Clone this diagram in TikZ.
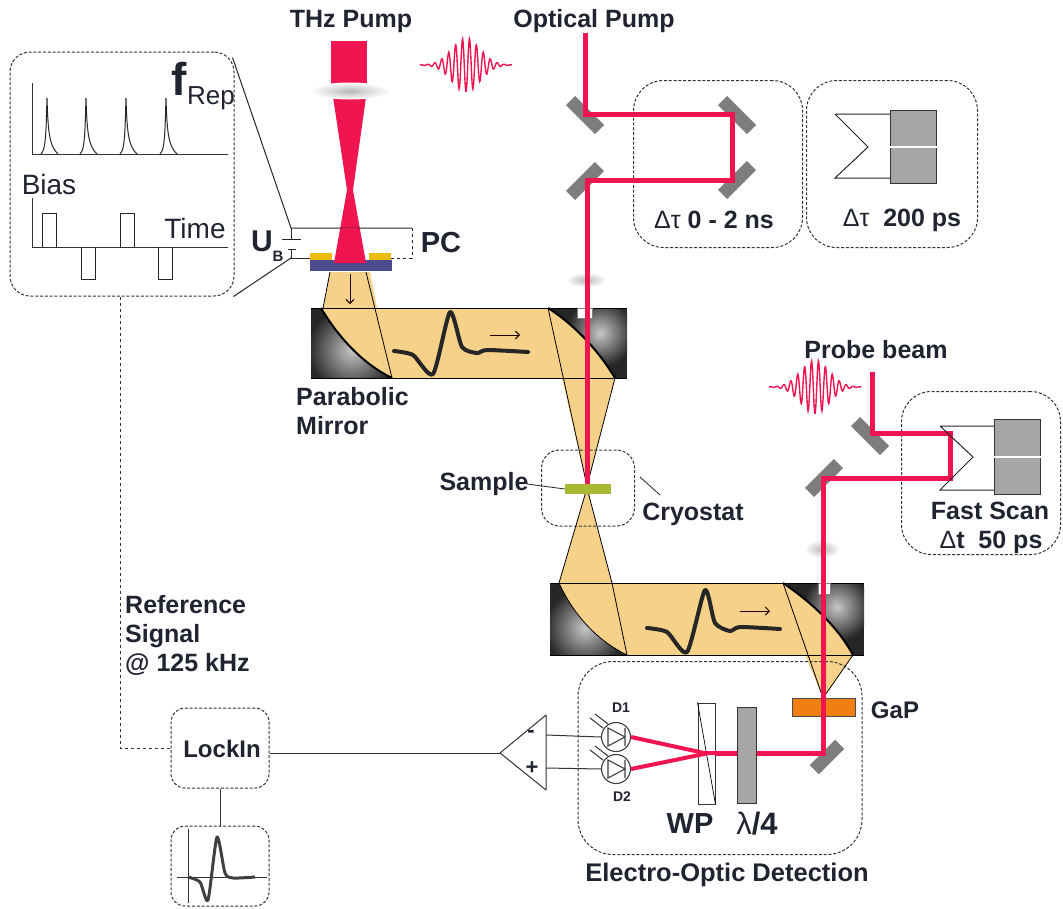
\documentclass[tikz,border=0pt]{standalone}
\usepackage{fontspec}
\setmainfont{Liberation Sans}
\usepackage{tikz}
\usetikzlibrary{shapes.geometric, arrows.meta, positioning}
\definecolor{beamred}{RGB}{240,20,80}
\definecolor{thztan}{RGB}{246,209,137}
\definecolor{mirrorgray}{RGB}{125,125,125}
\definecolor{blockgray}{RGB}{166,166,166}
\definecolor{labeldark}{RGB}{32,36,48}
\definecolor{samplegreen}{RGB}{168,184,50}
\definecolor{padyellow}{RGB}{236,188,16}
\definecolor{subblue}{RGB}{74,74,140}
\definecolor{gaporange}{RGB}{238,127,16}
\begin{document}
\begin{tikzpicture}[x=1pt, y=-1pt,
 lab/.style={font=\bfseries\fontsize{25}{29}\selectfont, text=labeldark, inner sep=0pt},
 plain/.style={font=\fontsize{28}{30}\selectfont, text=labeldark, inner sep=0pt},
 tiny/.style={font=\bfseries\fontsize{14}{16}\selectfont, text=labeldark, inner sep=0pt},
 dashbox/.style={draw=black!80, dash pattern=on 3pt off 1.8pt, line width=1pt, rectangle, inner sep=0pt},
 mirror/.style={fill=mirrorgray, rectangle, inner sep=0pt, minimum width=41pt, minimum height=13pt},
 lens/.style={ellipse, shade, inner color=black!28, outer color=white, inner sep=0pt},
 beam/.style={draw=beamred, line width=5pt, line join=miter},
 wire/.style={draw=black!80, line width=1pt},
 trace/.style={draw=black!85, line width=4pt, line join=round, line cap=round},
 arrowline/.style={draw=black!70!red!40!black, line width=1pt, -{Straight Barb[length=4pt]}},
 detector/.style={circle, draw=black!75, line width=1.1pt, fill=white, minimum size=29pt, inner sep=0pt},
 glow/.style={inner color=black!22, outer color=black!85}]
 \useasboundingbox (0,0) rectangle (1063,908);

 \node[dashbox, rounded corners=20pt, minimum width=224pt, minimum height=244pt] (pulsebox) at (122,174){};
 \node[dashbox, rounded corners=30pt, minimum width=169pt, minimum height=167pt] (delaybox) at (718,164){};
 \node[dashbox, rounded corners=30pt, minimum width=171pt, minimum height=167pt] (stagebox) at (892,164){};
 \node[dashbox, rounded corners=30pt, minimum width=159pt, minimum height=163pt] (fastbox) at (981,473){};
 \node[dashbox, rounded corners=14pt, minimum width=98pt, minimum height=80pt] (lockin) at (220,748){};
 \node[dashbox, rounded corners=14pt, minimum width=98pt, minimum height=80pt] (scopebox) at (220,866){};

 \fill[beamred] (331,41) rectangle (367,90);
 \fill[beamred] (332,90) -- (367,90) -- (353,190) -- (366,263) -- (334,263) -- (347,190) -- cycle;
 \node[lens, minimum width=80pt, minimum height=17pt] (pumplens) at (350,91){};

 \fill[padyellow] (310,253) rectangle (332,260);
 \fill[padyellow] (369,253) rectangle (391,260);
 \node[fill=subblue, minimum width=82pt, minimum height=11pt, inner sep=0pt] (emitter) at (351,265){};

 \begin{scope}
  \clip (311,308) rectangle (627,378);
  \fill[black!85] (311,308) rectangle (627,378);
  \shade[glow] (352,350) circle (44);
  \shade[glow] (600,333) circle (34);
 \end{scope}
 \fill[thztan] (330,272) -- (370,272) -- (377,308) -- (548,308) .. controls (570,322) and (595,345) .. (615,378) -- (587,486) -- (562,378) -- (392,378) .. controls (365,365) and (340,340) .. (321,308) -- (323,308) -- cycle;
 \draw[line width=1pt] (311,308) -- (627,308) (311,378) -- (627,378);
 \draw[line width=2pt] (321,308) .. controls (340,340) and (365,365) .. (392,378);
 \draw[line width=2pt] (548,308) .. controls (570,322) and (595,345) .. (615,378);
 \draw[line width=0.8pt] (330,272) -- (323,308) (366,272) -- (392,378) (548,308) -- (587,486) -- (615,378);
 \draw[trace] plot[smooth, tension=0.4] coordinates {(394,351) (413,355) (433,374) (450,312) (462,347) (477,353) (487,350) (528,352)};
 \draw[arrowline] (490,335) -- (520,335);
 \draw[arrowline] (350,274) -- (350,304);
 \node[draw=black!50, fill=white, minimum width=15pt, minimum height=10pt, inner sep=0pt] (notchtop) at (585,313){};
 \node[lens, minimum width=40pt, minimum height=15pt] (toplens) at (586,280){};

 \begin{scope}
  \clip (550,583) rectangle (864,655);
  \fill[black!85] (550,583) rectangle (864,655);
  \shade[glow] (585,628) circle (40);
  \shade[glow] (837,607) circle (34);
 \end{scope}
 \fill[thztan] (587,488) -- (612,583) -- (783,583) .. controls (805,598) and (835,622) .. (853,655) -- (823,698) -- (805,655) -- (627,655) .. controls (600,642) and (575,618) .. (559,583) -- cycle;
 \draw[line width=1pt] (550,583) -- (864,583) (550,655) -- (864,655);
 \draw[line width=0.8pt] (587,488) -- (559,583) .. controls (575,618) and (600,642) .. (627,655) (587,488) -- (612,583) -- (627,655);
 \draw[line width=2pt] (783,583) .. controls (805,598) and (835,622) .. (853,655);
 \draw[line width=0.8pt] (783,583) -- (823,698) -- (853,655);
 \draw[trace] plot[smooth, tension=0.4] coordinates {(647,628) (667,632) (687,652) (705,590) (715,623) (730,631) (740,627) (780,629)};
 \draw[arrowline] (740,611) -- (770,611);
 \node[draw=black!50, fill=white, minimum width=12pt, minimum height=11pt, inner sep=0pt] (notchlow) at (824,589){};
 \node[lens, minimum width=36pt, minimum height=18pt] (lowlens) at (822,549){};

 \node[dashbox, rounded corners=18pt, minimum width=93pt, minimum height=76pt] (cryobox) at (588,488){};
 \node[dashbox, rounded corners=35pt, minimum width=284pt, minimum height=193pt] (eobox) at (720,758){};

 \node[mirror, rotate=-45] (mirrorA) at (585,115){};
 \node[mirror, rotate=-45] (mirrorB) at (737,115){};
 \node[mirror, rotate=45] (mirrorC) at (737,180){};
 \node[mirror, rotate=45] (mirrorD) at (585,181){};
 \node[mirror, rotate=-45] (mirrorE) at (870,436){};
 \node[mirror, rotate=45] (mirrorF) at (824,478){};
 \node[mirror, rotate=45, minimum width=36pt] (mirrorG) at (827,757){};
 \coordinate (pumpstart) at (585,33);
 \coordinate (pumpA) at (585,114);
 \coordinate (pumpB) at (732,114);
 \coordinate (pumpC) at (732,180);
 \coordinate (pumpD) at (587,180);
 \coordinate (pumpend) at (587,484);
 \coordinate (probestart) at (872,372);
 \coordinate (probeA) at (872,433);
 \coordinate (probeB) at (950,433);
 \coordinate (probeC) at (950,478);
 \coordinate (probeD) at (823,478);
 \coordinate (probeE) at (823,753);
 \coordinate (probeF) at (700,753);

 \node[fill=samplegreen, minimum width=46pt, minimum height=10pt, inner sep=0pt] (sample) at (588,489){};
 \node[draw=black!70, fill=gaporange, line width=0.6pt, minimum width=63pt, minimum height=18pt, inner sep=0pt] (gap) at (824,707){};
 \draw[beam] (pumpstart) -- (pumpA) -- (pumpB) -- (pumpC) -- (pumpD) -- (pumpend);
 \draw[beam] (probestart) -- (probeA) -- (probeB) -- (probeC) -- (probeD) -- (probeE) -- (probeF);

 \node[draw=black!80, fill=white, line width=1pt, minimum width=17pt, minimum height=101pt, inner sep=0pt] (wp) at (706.5,753.5){};
 \draw[line width=0.7pt] (wp.north west) -- (wp.south east);
 \node[draw=black!80, fill=blockgray, line width=1pt, minimum width=19pt, minimum height=96pt, inner sep=0pt] (waveplate) at (747,755){};
 \draw[beamred, line width=4pt] (waveplate.west |- probeF) -- (probeF) -- (wp.center);
 \node[detector] (diodeA) at (616,737){};
 \node[detector] (diodeB) at (616,769){};
 \foreach \dy/\dname in {737/diodeA, 769/diodeB}{
  \draw[black!75, line width=1.1pt] (608,\dy-9) -- (608,\dy+9) -- (625,\dy) -- cycle (625,\dy-9) -- (625,\dy+9);
  \draw[black!75, line width=1.1pt] (590,\dy-19) -- (603,\dy-9) (595,\dy-23) -- (608,\dy-13);
 }
 \draw[beamred, line width=4pt] (wp.center) -- (diodeA.east);
 \draw[beamred, line width=4pt] (wp.center) -- (diodeB.east);

 \coordinate (amptip) at (500,753);
 \coordinate (amptop) at (546,715);
 \coordinate (ampbot) at (546,790);
 \coordinate (ampminus) at (546,735);
 \coordinate (ampplus) at (546,768);
 \draw[wire, line join=round] (amptip) -- (amptop) -- (ampbot) -- cycle;
 \draw[wire] (diodeA.west) -- (ampminus);
 \draw[wire] (diodeB.west) -- (ampplus);
 \draw[wire] (lockin.east |- amptip) -- (amptip);
 \draw[wire] (lockin) -- (scopebox);
 \coordinate (refcorner) at (120,748);
 \draw[draw=black!80, dashed, line width=0.8pt] (pulsebox.south -| refcorner) -- (refcorner) -- (lockin.west |- refcorner);

 \draw[wire] (188,829) -- (188,903) (177,877) -- (267,877);
 \draw[draw=black!75, line width=3pt, line join=round] plot[smooth, tension=0.4] coordinates {(188,877) (200,882) (208,900) (217,837) (225,873) (233,878) (255,877)};

 \draw[wire] (32,83) -- (32,154) -- (228,154);
 \foreach \px in {47,86,126,166}{
  \draw[black!85, line width=1pt] (\px-6,154) .. controls (\px-1,150) and (\px-1,130) .. (\px,98) .. controls (\px+1,130) and (\px+2,146) .. (\px+11,154);
 }
 \draw[wire] (32,198) -- (32,247) -- (228,247);
 \foreach \px in {42,120}{
  \draw[black!85, line width=1pt] (\px,247) |- (\px+14,213) -- (\px+14,247);
 }
 \foreach \px in {81,158}{
  \draw[black!85, line width=1pt] (\px,247) |- (\px+14,279) -- (\px+14,247);
 }
 \coordinate (pcleft) at (291,228);
 \coordinate (pcright) at (412,228);
 \draw[line width=1pt, black!85] (pulsebox.north east) ++(-2,6) -- (pcleft) -- (pcright);
 \draw[line width=1pt, black!85] (pulsebox.south east) ++(-1,0) -- (291,258);
 \draw[line width=1pt, black!85] (pcleft) -- (291,239) (282,239) -- (301,239) (288,249) -- (296,249) (291,249) -- (291,258) -- (310,258);
 \draw[line width=1pt, black!85, dashed] (pcright) -- (412,258) -- (391,258);
 \fill[beamred] (342,228) -- (358,228) -- (366,263) -- (334,263) -- cycle;

 \foreach \cx/\cy/\wname in {466/65/pumppulse, 815/387/probepulse}{
  \draw[beamred, line width=1.4pt] plot[domain=-46:46, samples=180] ({\cx+\x},{\cy+27*exp(-(\x/20)^2)*cos(\x*52)});
 }

 \draw[line width=1pt, black!85] (835,114) -- (868,147) -- (835,178) -- (890,178) (835,114) -- (890,114);
 \node[draw=black!80, fill=blockgray, line width=1pt, minimum width=46pt, minimum height=73pt, inner sep=0pt] (stageblock) at (913,147){};
 \draw[white, line width=1.5pt] (stageblock.west) -- (stageblock.east);
 \draw[line width=1pt, black!85] (940,426) -- (973,457) -- (940,490) -- (994,490) (940,426) -- (994,426);
 \node[draw=black!80, fill=blockgray, line width=1pt, minimum width=46pt, minimum height=75pt, inner sep=0pt] (fastblock) at (1017,457){};
 \draw[white, line width=1.5pt] (fastblock.west) -- (fastblock.east);

 \coordinate (cryotick) at (640,477);
 \draw[line width=0.8pt, black!85] (527,484) -- (sample.west);
 \draw[line width=0.8pt, black!85] (cryotick) -- (660,495);

 \node[lab] (thzlabel) at (351,21){THz Pump};
 \node[lab] (optlabel) at (594,21){Optical Pump};
 \node[lab] (probelabel) at (876,350){Probe beam};
 \node[lab, align=left, anchor=north west] (parlabel) at (296,387){Parabolic\\Mirror};
 \node[lab] (samplelabel) at (484,484){Sample};
 \node[lab] (cryolabel) at (693,514){Cryostat};
 \node[lab, align=left, anchor=north west] (reflabel) at (125,595){Reference\\Signal\\@ 125 kHz};
 \node[lab, font=\bfseries\fontsize{24}{26}\selectfont] (locklabel) at (222,749){LockIn};
 \node[lab, font=\bfseries\fontsize{25.5}{27}\selectfont] (eolabel) at (727,875){Electro-Optic Detection};
 \node[lab, font=\bfseries\fontsize{24}{26}\selectfont] (gaplabel) at (895,710){GaP};
 \node[lab, font=\bfseries\fontsize{29}{31}\selectfont] (wplabel) at (690,824){WP};
 \node[lab, font=\bfseries\fontsize{31}{33}\selectfont] (quarterlabel) at (757,824){{\mdseries λ}/4};
 \node[tiny] (dalabel) at (621,708){D1};
 \node[tiny] (dblabel) at (622,797){D2};
 \node[lab, font=\bfseries\fontsize{25}{27}\selectfont] (delaylabel) at (714,220){{\mdseries Δτ} 0 - 2 ns};
 \node[lab, font=\bfseries\fontsize{25}{27}\selectfont] (stagelabel) at (902,220){{\mdseries Δτ}\ \ 200 ps};
 \node[lab] (fastlabel) at (990,511){Fast Scan};
 \node[lab, font=\bfseries\fontsize{25}{27}\selectfont] (fastdt) at (991,542){{\mdseries Δ}t\ \ 50 ps};
 \node[lab, font=\bfseries\fontsize{29}{31}\selectfont] (pclabel) at (441,243){PC};
 \node[lab, font=\bfseries\fontsize{30}{32}\selectfont] (ulabel) at (262,241){U};
 \node[lab, font=\bfseries\fontsize{15}{17}\selectfont] (bsub) at (278,256){B};
 \node[plain, font=\fontsize{46}{48}\selectfont\bfseries] (flabel) at (179,79){f};
 \node[plain, font=\fontsize{26}{28}\selectfont] (replabel) at (211,98){Rep};
 \node[plain] (biaslabel) at (49,184){Bias};
 \node[plain] (timelabel) at (195,228){Time};
 \node[lab, font=\bfseries\fontsize{22}{24}\selectfont] (minuslabel) at (531,734){-};
 \node[lab, font=\bfseries\fontsize{22}{24}\selectfont] (pluslabel) at (532,768){+};
\end{tikzpicture}
\end{document}
